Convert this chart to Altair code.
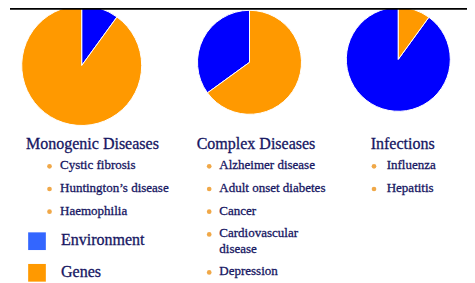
import altair as alt
import pandas as pd

# ---------------- data ----------------
groups = ["Monogenic Diseases", "Complex Diseases", "Infections"]
environment_share = [10, 35, 90]
genes_share = [90, 65, 10]
first_slice = ["Environment", "Genes", "Genes"]
group_items = [
    ["Cystic fibrosis", "Huntington\u2019s disease", "Haemophilia"],
    ["Alzheimer disease", "Adult onset diabetes", "Cancer", "Cardiovascular\ndisease", "Depression"],
    ["Influenza", "Hepatitis"],
]
legend_labels = ["Environment", "Genes"]

# ---------------- layout / style ----------------
W, H = 459, 275
pie_cx = [73.7, 241.5, 390.3]
pie_cy = [57.5, 54.3, 51.3]
pie_r = [60, 52, 52]
title_x = [18, 188.7, 362.7]
bullet_x = [41.5, 201.2, 366]
item_x = [52, 211.3, 378.7]
title_base = 141
item_base0 = 161.3
item_step = 22.7
wrap_step = 15.3
pie_colors = ["#0000FF", "#FF9900"]
legend_colors = ["#3366FF", "#FF9900"]
text_color = "#161662"
bullet_color = "#F0A848"
FONT = "Liberation Serif"
text_stroke = dict(stroke="#161662", strokeWidth=0.3)

noaxis = dict(scale=None, axis=None)

layers = []

# pies
for i in range(len(groups)):
    df = pd.DataFrame({"component": legend_labels,
                       "share": [environment_share[i], genes_share[i]]})
    df["rank"] = [0 if c == first_slice[i] else 1 for c in df["component"]]
    layers.append(
        alt.Chart(df).mark_arc(stroke="white", strokeWidth=1, radius=pie_r[i]).encode(
            theta=alt.Theta("share:Q", stack=True),
            color=alt.Color("component:N",
                            scale=alt.Scale(domain=legend_labels, range=pie_colors),
                            legend=None),
            order=alt.Order("rank:Q"),
            x=alt.value(pie_cx[i]),
            y=alt.value(pie_cy[i]),
        )
    )

# top rule
layers.append(
    alt.Chart(pd.DataFrame({"a": [0]})).mark_rule(color="black", strokeWidth=2.5).encode(
        x=alt.value(2), x2=alt.value(W), y=alt.value(0.5)
    )
)

# titles
titles_df = pd.DataFrame({"label": groups, "px": title_x, "py": [title_base] * 3})
layers.append(
    alt.Chart(titles_df).mark_text(align="left", baseline="alphabetic", font=FONT,
                                   fontSize=16, color=text_color, **text_stroke).encode(
        x=alt.X("px:Q", **noaxis), y=alt.Y("py:Q", **noaxis), text="label:N"
    )
)

# items
rows = []
for g, items in enumerate(group_items):
    extra = 0
    for k, it in enumerate(items):
        base = item_base0 + k * item_step + extra * wrap_step
        rows.append({"label": it, "px": item_x[g], "py": base,
                     "bx": bullet_x[g], "by": base - 3})
        extra += it.count("\n")
items_df = pd.DataFrame(rows)
layers.append(
    alt.Chart(items_df).mark_text(align="left", baseline="alphabetic", font=FONT,
                                  fontSize=13, color=text_color, lineBreak="\n",
                                  lineHeight=15.3, **text_stroke).encode(
        x=alt.X("px:Q", **noaxis), y=alt.Y("py:Q", **noaxis), text="label:N"
    )
)
layers.append(
    alt.Chart(items_df).mark_point(filled=True, shape="circle", size=22,
                                   color=bullet_color, opacity=1).encode(
        x=alt.X("bx:Q", **noaxis), y=alt.Y("by:Q", **noaxis)
    )
)

# legend
leg_df = pd.DataFrame({"label": legend_labels, "sx": [29, 29], "sy": [233.2, 264.8],
                       "tx": [53, 53], "ty": [237, 268.7]})
layers.append(
    alt.Chart(leg_df).mark_square(size=313, opacity=1).encode(
        x=alt.X("sx:Q", **noaxis), y=alt.Y("sy:Q", **noaxis),
        color=alt.Color("label:N", scale=alt.Scale(domain=legend_labels, range=legend_colors),
                        legend=None)
    )
)
layers.append(
    alt.Chart(leg_df).mark_text(align="left", baseline="alphabetic", font=FONT,
                                fontSize=16, color=text_color, **text_stroke).encode(
        x=alt.X("tx:Q", **noaxis), y=alt.Y("ty:Q", **noaxis), text="label:N"
    )
)

chart = alt.layer(*layers).resolve_scale(color="independent").properties(
    width=W, height=H, padding=0, autosize=alt.AutoSizeParams(type="none"),
    background="white"
).configure_view(stroke=None)

chart.save("out.html", embed_options={"renderer": "svg", "actions": False})
